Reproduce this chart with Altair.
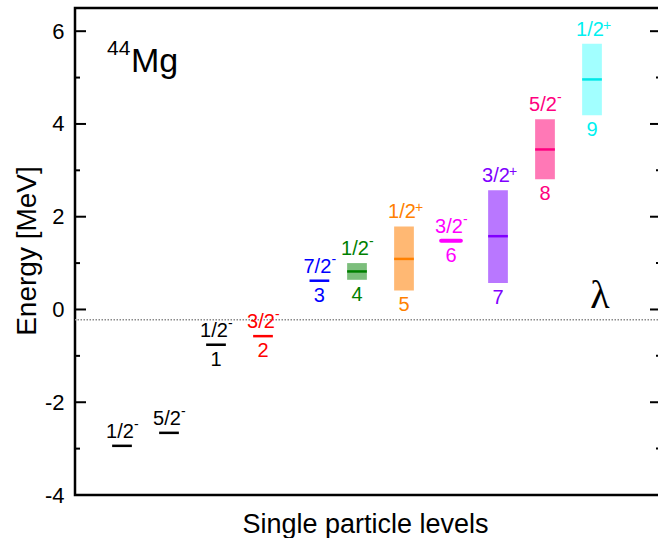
import altair as alt
import pandas as pd

# ---------------- data ----------------
level_ids = ["a", "b", "1", "2", "3", "4", "5", "6", "7", "8", "9"]
positions = [1.0, 2.0, 3.0, 4.0, 5.2, 6.0, 7.0, 8.0, 9.0, 10.0, 11.0]
energies = [-2.94, -2.66, -0.76, -0.575, 0.62, 0.82, 1.09, 1.48, 1.58, 3.45, 4.96]
lower = [-2.94, -2.66, -0.76, -0.575, 0.62, 0.64, 0.41, 1.48, 0.57, 2.81, 4.19]
upper = [-2.94, -2.66, -0.76, -0.575, 0.62, 1.00, 1.79, 1.48, 2.57, 4.10, 5.73]
spins = ["1/2", "5/2", "1/2", "3/2", "7/2", "1/2", "1/2", "3/2", "3/2", "5/2", "1/2"]
parities = ["-", "-", "-", "-", "-", "-", "+", "-", "+", "-", "+"]
numbers = ["", "", "1", "2", "3", "4", "5", "6", "7", "8", "9"]
fermi_level = -0.22
lambda_x = 11.17
nucleus_x = 0.68
nucleus_y = 5.12
y_major = [-4, -2, 0, 2, 4, 6]
y_minor = [-3, -1, 1, 3, 5]

# ---------------- styles ----------------
line_colors = ["#000000", "#000000", "#000000", "#FF0000", "#0000FF", "#008000",
               "#FF8000", "#FF00FF", "#8000FF", "#FF0080", "#00E8E8"]
text_colors = ["#000000", "#000000", "#000000", "#FF0000", "#0000FF", "#008000",
               "#FF8000", "#FF00FF", "#8000FF", "#FF0080", "#00F0F0"]
box_colors = ["#FFFFFF", "#FFFFFF", "#FFFFFF", "#FFFFFF", "#FFFFFF", "#7CBE7C",
              "#FFB873", "#FFFFFF", "#B977FF", "#FF78B6", "#A2FFFF"]
FONT = "Liberation Sans"

df = pd.DataFrame({
    "id": level_ids, "pos": positions, "e": energies, "lo": lower, "hi": upper,
    "spin": spins, "par": parities, "num": numbers,
})
major_df = pd.DataFrame({"v": y_major})
minor_df = pd.DataFrame({"v": y_minor})

X_SC = alt.Scale(domain=[0, 586 / 47.0], nice=False, zero=False)
Y_SC = alt.Scale(domain=[-4, 6.5], nice=False, zero=False)
X_AX = alt.Axis(labels=False, ticks=False, domain=False, grid=False,
                title="Single particle levels", titleFont=FONT, titleFontSize=27,
                titleFontWeight="normal", titleColor="black",
                titleX=290, titleY=37, titleAlign="center", titleBaseline="alphabetic")
Y_AX = alt.Axis(values=y_major, ticks=False, domain=False, grid=False,
                labelFont=FONT, labelFontSize=22, labelColor="black", labelPadding=11,
                labelExpr="datum.value < 0 ? '-' + abs(datum.value) : '' + datum.value",
                title="Energy [MeV]", titleFont=FONT, titleFontSize=28,
                titleFontWeight="normal", titleColor="black",
                titleX=-40, titleY=242.5, titleAngle=270, titleAlign="center",
                titleBaseline="alphabetic")

def X(f):
    return alt.X(f, type="quantitative", scale=X_SC, axis=X_AX)

def Y(f):
    return alt.Y(f, type="quantitative", scale=Y_SC, axis=Y_AX)

base = alt.Chart(df).transform_calculate(
    xl="datum.pos - 0.21", xr="datum.pos + 0.21"
)

boxes = base.transform_filter("datum.hi > datum.lo").mark_rect().encode(
    x=X("xl"), x2="xr", y=Y("lo"), y2="hi",
    fill=alt.Fill("id:N", scale=alt.Scale(domain=level_ids, range=box_colors), legend=None),
)

lines = base.transform_filter("datum.id != '6'").mark_rule(strokeWidth=2.5).encode(
    x=X("xl"), x2="xr", y=Y("e"),
    stroke=alt.Stroke("id:N", scale=alt.Scale(domain=level_ids, range=line_colors), legend=None),
)
thick = base.transform_filter("datum.id == '6'").mark_rule(strokeWidth=4, strokeCap="round").encode(
    x=X("xl"), x2="xr", y=Y("e"),
    stroke=alt.Stroke("id:N", scale=alt.Scale(domain=level_ids, range=line_colors), legend=None),
)

tcolor = alt.Color("id:N", scale=alt.Scale(domain=level_ids, range=text_colors), legend=None)

spin_txt = alt.Chart(df).mark_text(font=FONT, fontSize=20, baseline="alphabetic",
                                   align="center", dx=-2, dy=-8).encode(
    x=X("pos"), y=Y("hi"), text="spin:N", color=tcolor)
sup_minus = alt.Chart(df).transform_filter("datum.par == '-'").mark_text(
    font=FONT, fontSize=14, baseline="alphabetic", align="left", dx=12, dy=-17).encode(
    x=X("pos"), y=Y("hi"), text="par:N", color=tcolor)
sup_plus = alt.Chart(df).transform_filter("datum.par == '+'").mark_text(
    font=FONT, fontSize=14, baseline="alphabetic", align="left", dx=11, dy=-14).encode(
    x=X("pos"), y=Y("hi"), text="par:N", color=tcolor)
num_txt = alt.Chart(df).transform_filter("datum.num != ''").mark_text(
    font=FONT, fontSize=20, baseline="alphabetic", align="center", dy=21).encode(
    x=X("pos"), y=Y("lo"), text="num:N", color=tcolor)

fermi_df = pd.DataFrame({"e": [fermi_level], "x": [lambda_x], "t": ["λ"]})
fermi = alt.Chart(fermi_df).mark_rule(color="#8a8a8a", strokeWidth=1.5,
                                      strokeDash=[1.5, 1.5]).encode(y=Y("e"))
lam = alt.Chart(fermi_df).mark_text(font="Liberation Serif", fontSize=40,
                                    baseline="alphabetic", align="center", dy=-12,
                                    color="black").encode(x=X("x"), y=Y("e"), text="t:N")

nuc_df = pd.DataFrame({"x": [nucleus_x], "y": [nucleus_y], "mass": ["44"], "el": ["Mg"]})
mass = alt.Chart(nuc_df).mark_text(font=FONT, fontSize=21, baseline="alphabetic",
                                   align="left", dy=-17, color="black").encode(
    x=X("x"), y=Y("y"), text="mass:N")
elem = alt.Chart(nuc_df).mark_text(font=FONT, fontSize=34, baseline="alphabetic",
                                   align="left", dx=24, color="black").encode(
    x=X("x"), y=Y("y"), text="el:N")

tick_l_major = alt.Chart(major_df).mark_rule(color="black", strokeWidth=2).encode(
    y=Y("v"), x=alt.value(0), x2=alt.value(11))
tick_l_minor = alt.Chart(minor_df).mark_rule(color="black", strokeWidth=2).encode(
    y=Y("v"), x=alt.value(0), x2=alt.value(5))
tick_r_major = alt.Chart(major_df).mark_rule(color="black", strokeWidth=2).encode(
    y=Y("v"), x=alt.value(575), x2=alt.value(586))
tick_r_minor = alt.Chart(minor_df).mark_rule(color="black", strokeWidth=2).encode(
    y=Y("v"), x=alt.value(581), x2=alt.value(586))

chart = alt.layer(
    fermi, boxes, lines, thick, spin_txt, sup_minus, sup_plus, num_txt, lam,
    mass, elem, tick_l_major, tick_l_minor, tick_r_major, tick_r_minor,
).properties(
    width=586, height=487,
    autosize=alt.AutoSizeParams(type="none"),
    padding={"left": 75, "top": 8, "right": -3, "bottom": 43},
    background="white",
).configure_view(stroke="black", strokeWidth=2.5)

chart.save("out.html", embed_options={"renderer": "svg", "actions": False})
